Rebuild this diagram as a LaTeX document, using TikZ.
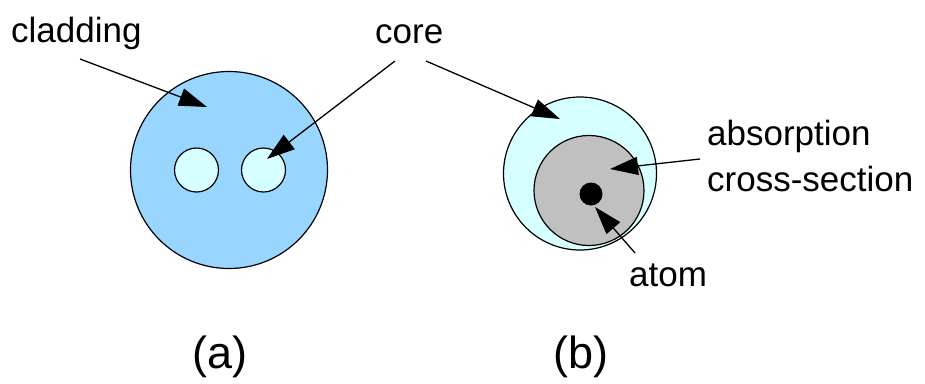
\documentclass[tikz,border=0pt]{standalone}
\usepackage{fontspec}
\setmainfont{Liberation Sans}
\usetikzlibrary{arrows.meta}
\definecolor{clad}{HTML}{99D6FF}
\definecolor{corecol}{HTML}{D6FFFF}
\definecolor{xsec}{HTML}{C0C0C0}
\begin{document}
\begin{tikzpicture}[x=1pt,y=-1pt,
  ring/.style={circle,draw=black,line width=1.2pt,inner sep=0pt},
  lbl/.style={anchor=base west,inner sep=0pt,font=\fontsize{35}{42}\selectfont},
  panelcap/.style={anchor=base west,inner sep=0pt,font=\fontsize{45}{54}\selectfont},
  pointer/.style={line width=1.3pt,-{Triangle[length=28pt,width=18pt]}}]
\useasboundingbox (0,0) rectangle (925,383);
% (a)
\node[ring,fill=clad,minimum size=197pt] (cladc) at (229,170) {};
\node[ring,fill=corecol,minimum size=44pt] (corea1) at (196.5,170) {};
\node[ring,fill=corecol,minimum size=44pt] (corea2) at (263.5,170) {};
% (b)
\node[ring,fill=corecol,minimum size=153pt] (coreb) at (580,173.5) {};
\node[ring,fill=xsec,minimum size=110pt] (xs) at (589,190.5) {};
\node[circle,fill=black,inner sep=0pt,minimum size=23pt] (atomdot) at (591,194) {};
% labels
\node[lbl] (tclad) at (11,42) {cladding};
\node[lbl] (tcore) at (375,43) {core};
\node[lbl] (tabs) at (707,145) {absorption};
\node[lbl] (tcross) at (707,191) {cross-section};
\node[lbl] (tatom) at (629,286) {atom};
\node[panelcap] (ta) at (192,368) {(a)};
\node[panelcap] (tb) at (553,368) {(b)};
% arrow ends
\coordinate (s1) at (80,59);   \coordinate (e1) at (207,107);
\coordinate (s2) at (395,61);  \coordinate (e2) at (267,159);
\coordinate (s3) at (426,61);  \coordinate (e3) at (560,119);
\coordinate (s4) at (700,159); \coordinate (e4) at (610,169);
\coordinate (s5) at (635,253); \coordinate (e5) at (595,207);
\draw[pointer] (s1) -- (e1);
\draw[pointer] (s2) -- (e2);
\draw[pointer] (s3) -- (e3);
\draw[pointer] (s4) -- (e4);
\draw[pointer] (s5) -- (e5);
\end{tikzpicture}
\end{document}
